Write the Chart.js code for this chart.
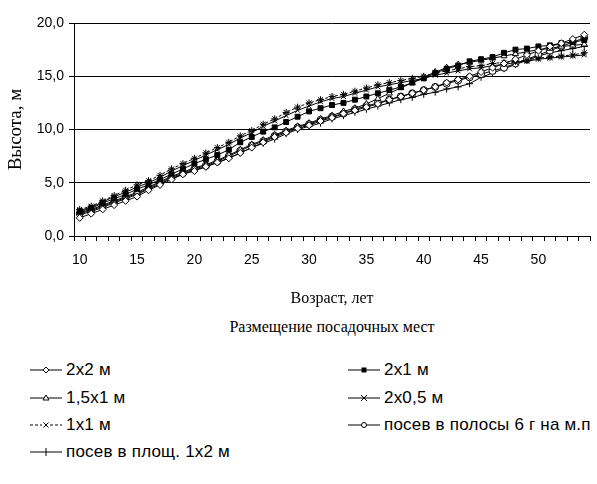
<!DOCTYPE html>
<html>
<head>
<meta charset="utf-8">
<script src="https://cdn.jsdelivr.net/npm/chart.js@4/dist/chart.umd.min.js"></script>
<style>
  body { margin: 0; background: #fff; width: 597px; height: 484px; position: relative; overflow: hidden;
         font-family: "Liberation Sans", Arial, sans-serif; color: #000; }
  #wrap { position: absolute; left: 0; top: 0; width: 597px; height: 310px; }
  #subtitle { position: absolute; left: 0; top: 317px; width: 664px; text-align: center;
              font: 16px "Liberation Serif", "Times New Roman", serif; line-height: 19px; }
  .item { position: absolute; height: 20px; display: flex; align-items: center; font-size: 17px;
          letter-spacing: 0.2px; white-space: nowrap; }
  .item svg { margin-right: 4px; }
</style>
</head>
<body>
<div id="wrap"><canvas id="chart"></canvas></div>
<div id="subtitle">Размещение посадочных мест</div>
<div id="legend"></div>
<script>
// возраст, лет
const ages = [10, 11, 12, 13, 14, 15, 16, 17, 18, 19, 20, 21, 22, 23, 24, 25, 26, 27, 28, 29,
  30, 31, 32, 33, 34, 35, 36, 37, 38, 39, 40, 41, 42, 43, 44, 45, 46, 47, 48, 49, 50, 51, 52, 53, 54];
const yTicks = [0, 5, 10, 15, 20];

const seriesNames = ["2x2 м", "2x1 м", "1,5x1 м", "2x0,5 м", "1x1 м",
  "посев в полосы 6 г на м.п", "посев в площ. 1x2 м"];

const h2x2 = [1.7, 2.1, 2.5, 2.9, 3.3, 3.7, 4.3, 4.8, 5.3, 5.8,
  6.1, 6.5, 6.9, 7.3, 7.8, 8.3, 8.8, 9.3, 9.7, 10.1,
  10.4, 10.8, 11.1, 11.5, 11.8, 12.1, 12.4, 12.8, 13.1, 13.4,
  13.7, 14.0, 14.4, 14.7, 15.0, 15.4, 15.8, 16.2, 16.6, 17.0,
  17.4, 17.8, 18.1, 18.5, 18.9];
const h2x1 = [2.3, 2.6, 3.1, 3.5, 3.9, 4.4, 4.8, 5.3, 5.8, 6.3,
  6.8, 7.2, 7.6, 8.1, 8.8, 9.3, 9.8, 10.2, 10.7, 11.2,
  11.7, 12.0, 12.3, 12.5, 12.8, 13.1, 13.4, 13.7, 14.0, 14.4,
  14.8, 15.3, 15.7, 16.0, 16.4, 16.6, 16.8, 17.2, 17.5, 17.6,
  17.8, 17.9, 18.1, 18.2, 18.4];
const h15x1 = [2.2, 2.5, 2.9, 3.3, 3.7, 4.1, 4.6, 5.1, 5.6, 6.0,
  6.4, 6.7, 7.1, 7.6, 8.1, 8.6, 9.0, 9.5, 9.9, 10.3,
  10.6, 11.0, 11.3, 11.7, 12.0, 12.4, 12.9, 13.4, 13.9, 14.4,
  14.9, 15.4, 15.8, 16.1, 16.3, 16.5, 16.7, 16.9, 17.1, 17.3,
  17.5, 17.6, 17.8, 17.9, 18.0];
const h2x05 = [2.4, 2.7, 3.2, 3.7, 4.1, 4.6, 5.0, 5.5, 6.1, 6.6,
  7.1, 7.6, 8.1, 8.6, 9.2, 9.7, 10.3, 10.8, 11.3, 11.8,
  12.2, 12.6, 12.9, 13.1, 13.4, 13.7, 14.0, 14.2, 14.4, 14.6,
  14.8, 15.1, 15.3, 15.5, 15.7, 15.8, 16.0, 16.1, 16.3, 16.4,
  16.6, 16.7, 16.8, 16.9, 17.0];
const h1x1 = [2.5, 2.8, 3.3, 3.8, 4.3, 4.8, 5.2, 5.7, 6.3, 6.8,
  7.3, 7.8, 8.3, 8.8, 9.4, 9.9, 10.5, 11.0, 11.6, 12.1,
  12.5, 12.8, 13.1, 13.3, 13.6, 13.9, 14.2, 14.4, 14.6, 14.8,
  15.0, 15.3, 15.5, 15.7, 15.9, 16.0, 16.2, 16.3, 16.4, 16.5,
  16.7, 16.8, 16.9, 17.0, 17.2];
const hStrip = [2.1, 2.4, 2.8, 3.2, 3.6, 4.0, 4.5, 5.0, 5.5, 5.9,
  6.3, 6.6, 7.0, 7.5, 8.0, 8.5, 8.9, 9.4, 9.8, 10.2,
  10.5, 10.9, 11.2, 11.5, 11.9, 12.2, 12.5, 12.8, 13.1, 13.4,
  13.7, 14.0, 14.3, 14.6, 14.9, 15.2, 15.5, 15.8, 16.2, 16.6,
  17.0, 17.4, 17.8, 18.2, 18.6];
const hPlot = [2.0, 2.3, 2.7, 3.1, 3.5, 3.9, 4.4, 4.9, 5.4, 5.8,
  6.2, 6.5, 6.9, 7.3, 7.8, 8.3, 8.7, 9.1, 9.6, 10.0,
  10.3, 10.6, 11.0, 11.3, 11.6, 11.9, 12.2, 12.5, 12.8, 13.0,
  13.3, 13.5, 13.8, 14.0, 14.3, 14.9, 15.3, 15.7, 16.1, 16.5,
  16.9, 17.2, 17.4, 17.6, 17.8];

const seriesData = [h2x2, h2x1, h15x1, h2x05, h1x1, hStrip, hPlot];
const markers = ["rectRot", "rect", "triangle", "crossRot", "star", "circle", "cross"];
const filled = [false, true, false, false, false, false, false];
const dashes = [[], [], [], [], [3, 2], [], []];

const fmt = (v) => v.toFixed(1).replace(".", ",");

const datasets = seriesData.map((d, i) => ({
  label: seriesNames[i],
  data: d,
  borderColor: "#000",
  borderWidth: 1,
  borderDash: dashes[i],
  pointStyle: markers[i],
  pointRadius: 3.5,
  pointBorderWidth: 1,
  pointBorderColor: "#000",
  pointBackgroundColor: filled[i] ? "#000" : "#fff",
  tension: 0,
}));

new Chart(document.getElementById("chart"), {
  type: "line",
  data: { labels: ages, datasets: datasets },
  options: {
    responsive: true,
    maintainAspectRatio: false,
    animation: false,
    devicePixelRatio: 1,
    layout: { padding: { top: 23, right: 7, bottom: 0, left: 0 } },
    plugins: { legend: { display: false }, tooltip: { enabled: false } },
    scales: {
      x: {
        type: "category",
        offset: true,
        afterFit: (s) => { s.height = 74; },
        grid: { offset: true, drawOnChartArea: false, drawTicks: true, tickLength: 5, color: "#000" },
        border: { display: true, color: "#000", width: 1 },
        ticks: {
          autoSkip: false, maxRotation: 0, padding: 11, color: "#000",
          font: { family: "'Liberation Sans', Arial, sans-serif", size: 14 },
          callback: function (v) {
            const a = ages[v];
            return (a - 10) % 5 === 0 && a <= 50 ? String(a) : "";
          },
        },
        title: {
          display: true, text: "Возраст, лет", color: "#000",
          font: { family: "'Liberation Serif', 'Times New Roman', serif", size: 16 },
          padding: { top: 0, bottom: 1.5 },
        },
      },
      y: {
        min: 0, max: 20,
        afterFit: (s) => { s.width = 74; },
        afterBuildTicks: (s) => { s.ticks = yTicks.map((v) => ({ value: v })); },
        grid: { color: "#000", lineWidth: 1, drawTicks: true, tickLength: 5 },
        border: { display: true, color: "#000", width: 1 },
        ticks: {
          padding: 5, color: "#000",
          font: { family: "'Liberation Sans', Arial, sans-serif", size: 14 },
          callback: (v) => fmt(v),
        },
        title: {
          display: true, text: "Высота, м", color: "#000",
          font: { family: "'Liberation Serif', 'Times New Roman', serif", size: 19 },
          padding: { top: 5, bottom: 0 },
        },
      },
    },
  },
});

// legend in two columns, as in the source figure
function markerSvg(style, dash) {
  const d = dash.length ? ' stroke-dasharray="' + dash.join(",") + '"' : "";
  let m = "";
  const c = 16, y = 6, r = 2.5;
  if (style === "circle") m = `<circle cx="${c}" cy="${y}" r="${r}" fill="#fff" stroke="#000"/>`;
  if (style === "rectRot") m = `<polygon points="${c},${y - 3} ${c + 3},${y} ${c},${y + 3} ${c - 3},${y}" fill="#fff" stroke="#000"/>`;
  if (style === "rect") m = `<rect x="${c - 2.5}" y="${y - 2.5}" width="5" height="5" fill="#000"/>`;
  if (style === "triangle") m = `<polygon points="${c},${y - 3} ${c + 3},${y + 2} ${c - 3},${y + 2}" fill="#fff" stroke="#000"/>`;
  if (style === "crossRot") m = `<path d="M${c - 3} ${y - 3}L${c + 3} ${y + 3}M${c + 3} ${y - 3}L${c - 3} ${y + 3}" stroke="#000"/>`;
  if (style === "star") m = `<rect x="${c - 4}" y="${y - 4}" width="8" height="8" fill="#fff"/><path d="M${c - 2.5} ${y - 2.5}L${c + 2.5} ${y + 2.5}M${c + 2.5} ${y - 2.5}L${c - 2.5} ${y + 2.5}" stroke="#000"/>`;
  if (style === "cross") m = `<path d="M${c} ${y - 4}L${c} ${y + 4}" stroke="#000"/>`;
  return `<svg width="32" height="12"><line x1="0" y1="${y}" x2="32" y2="${y}" stroke="#000"${d}/>${m}</svg>`;
}

const legendRows = [370, 398, 425, 452];
const legendCols = [30, 348];
const legend = document.getElementById("legend");
seriesNames.forEach((name, i) => {
  const el = document.createElement("div");
  el.className = "item";
  el.style.left = legendCols[i % 2] + "px";
  el.style.top = (legendRows[Math.floor(i / 2)] - 10) + "px";
  el.innerHTML = markerSvg(markers[i], dashes[i]) + "<span>" + name + "</span>";
  legend.appendChild(el);
});
</script>
</body>
</html>
